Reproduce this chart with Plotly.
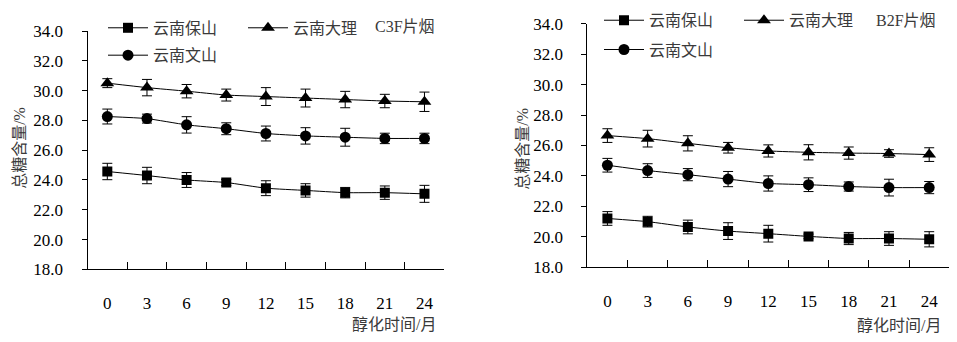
import plotly.graph_objects as go

months = ["0", "3", "6", "9", "12", "15", "18", "21", "24"]
y_ticks = [18, 20, 22, 24, 26, 28, 30, 32, 34]

c3f_baoshan = [24.57, 24.30, 24.00, 23.83, 23.45, 23.30, 23.15, 23.15, 23.07]
c3f_baoshan_err = [0.55, 0.55, 0.50, 0.20, 0.50, 0.45, 0.35, 0.45, 0.57]
c3f_dali = [30.50, 30.20, 29.96, 29.70, 29.60, 29.50, 29.40, 29.30, 29.25]
c3f_dali_err = [0.30, 0.55, 0.45, 0.40, 0.60, 0.60, 0.55, 0.45, 0.65]
c3f_wenshan = [28.26, 28.12, 27.70, 27.44, 27.12, 26.96, 26.87, 26.79, 26.79]
c3f_wenshan_err = [0.50, 0.30, 0.55, 0.40, 0.50, 0.55, 0.60, 0.35, 0.35]

b2f_baoshan = [21.20, 20.99, 20.64, 20.37, 20.20, 20.02, 19.88, 19.88, 19.83]
b2f_baoshan_err = [0.45, 0.35, 0.45, 0.55, 0.55, 0.15, 0.40, 0.45, 0.50]
b2f_dali = [26.65, 26.45, 26.14, 25.85, 25.64, 25.55, 25.50, 25.47, 25.40]
b2f_dali_err = [0.45, 0.55, 0.50, 0.35, 0.40, 0.50, 0.40, 0.25, 0.45]
b2f_wenshan = [24.70, 24.35, 24.08, 23.79, 23.50, 23.42, 23.30, 23.23, 23.23]
b2f_wenshan_err = [0.45, 0.45, 0.40, 0.50, 0.50, 0.45, 0.30, 0.55, 0.40]

names = ["云南保山", "云南大理", "云南文山"]
panel_titles = ["C3F片烟", "B2F片烟"]
x_title = "醇化时间/月"
y_title = "总糖含量/%"

W, H = 957, 342
SERIF = "Times New Roman, Liberation Serif, Noto Sans CJK SC"
NUMFONT = "Times New Roman, Liberation Serif"
CJK_COLOR = "#3a3a3a"

symbols = ["square", "triangle-up", "circle"]
sizes = [10, 12, 11]

fig = go.Figure()

panels = [
    ("x", "y", [c3f_baoshan, c3f_dali, c3f_wenshan],
     [c3f_baoshan_err, c3f_dali_err, c3f_wenshan_err], ["legend", "legend", "legend2"]),
    ("x2", "y2", [b2f_baoshan, b2f_dali, b2f_wenshan],
     [b2f_baoshan_err, b2f_dali_err, b2f_wenshan_err], ["legend3", "legend3", "legend4"]),
]

for xa, ya, series, errs, legs in panels:
    for i in range(3):
        fig.add_trace(go.Scatter(
            x=months, y=series[i], xaxis=xa, yaxis=ya,
            name=names[i], legend=legs[i],
            mode="lines+markers",
            line=dict(color="black", width=1, shape="spline", smoothing=0.5),
            marker=dict(symbol=symbols[i], size=sizes[i], color="black"),
            error_y=dict(type="data", array=errs[i], visible=True,
                         color="black", thickness=1, width=5),
            hoverinfo="skip",
        ))

def px_x(p):
    return p / W

def px_y(p):
    return 1 - p / H

axis_common = dict(showline=True, linecolor="black", linewidth=1, showgrid=False,
                   zeroline=False, tickcolor="black", tickwidth=1,
                   tickfont=dict(family=NUMFONT, size=17, color="black"))

fig.update_layout(
    width=W, height=H,
    margin=dict(l=0, r=0, t=0, b=0),
    paper_bgcolor="white", plot_bgcolor="white",
    font=dict(family=SERIF),
    xaxis=dict(domain=[px_x(87.5), px_x(444.3)], anchor="y", type="category",
               range=[-0.5, 8.5], tickson="boundaries", ticks="inside", ticklen=7,
               ticklabelstandoff=18, **axis_common),
    yaxis=dict(domain=[px_y(275.7), px_y(23.3)], anchor="x", range=[18, 34],
               tickvals=y_ticks, tickformat=".1f", ticks="outside", ticklen=5,
               ticklabelstandoff=15, **axis_common),
    xaxis2=dict(domain=[px_x(587.3), px_x(949.3)], anchor="y2", type="category",
                range=[-0.5, 8.5], tickson="boundaries", ticks="inside", ticklen=7,
                ticklabelstandoff=18, **axis_common),
    yaxis2=dict(domain=[px_y(273.3), px_y(15.7)], anchor="x2", range=[18, 34],
                tickvals=y_ticks, tickformat=".1f", ticks="outside", ticklen=5,
                ticklabelstandoff=15, **axis_common),
    showlegend=True,
)

def legend_cfg(xpix, ypix):
    return dict(x=px_x(xpix), y=px_y(ypix), xanchor="left", yanchor="middle",
                orientation="h", itemwidth=40, entrywidth=85, bgcolor="rgba(0,0,0,0)",
                font=dict(family=SERIF, size=16, color=CJK_COLOR),
                itemclick=False, itemdoubleclick=False, tracegroupgap=0)

fig.update_layout(
    legend=legend_cfg(103, 20),
    legend2=legend_cfg(103, 49),
    legend3=legend_cfg(599, 12),
    legend4=legend_cfg(599, 43),
)

annots = [
    dict(text=panel_titles[0], x=px_x(404.5), y=px_y(19)),
    dict(text=panel_titles[1], x=px_x(905.5), y=px_y(12)),
    dict(text=x_title, x=px_x(394), y=px_y(334)),
    dict(text=x_title, x=px_x(899), y=px_y(335)),
    dict(text=y_title, x=px_x(20), y=px_y(147), textangle=-90),
    dict(text=y_title, x=px_x(523), y=px_y(148), textangle=-90),
]
for a in annots:
    fig.add_annotation(xref="paper", yref="paper", xanchor="center", yanchor="middle",
                       showarrow=False, font=dict(family=SERIF, size=16, color=CJK_COLOR), **a)

fig.write_html("out.html")
